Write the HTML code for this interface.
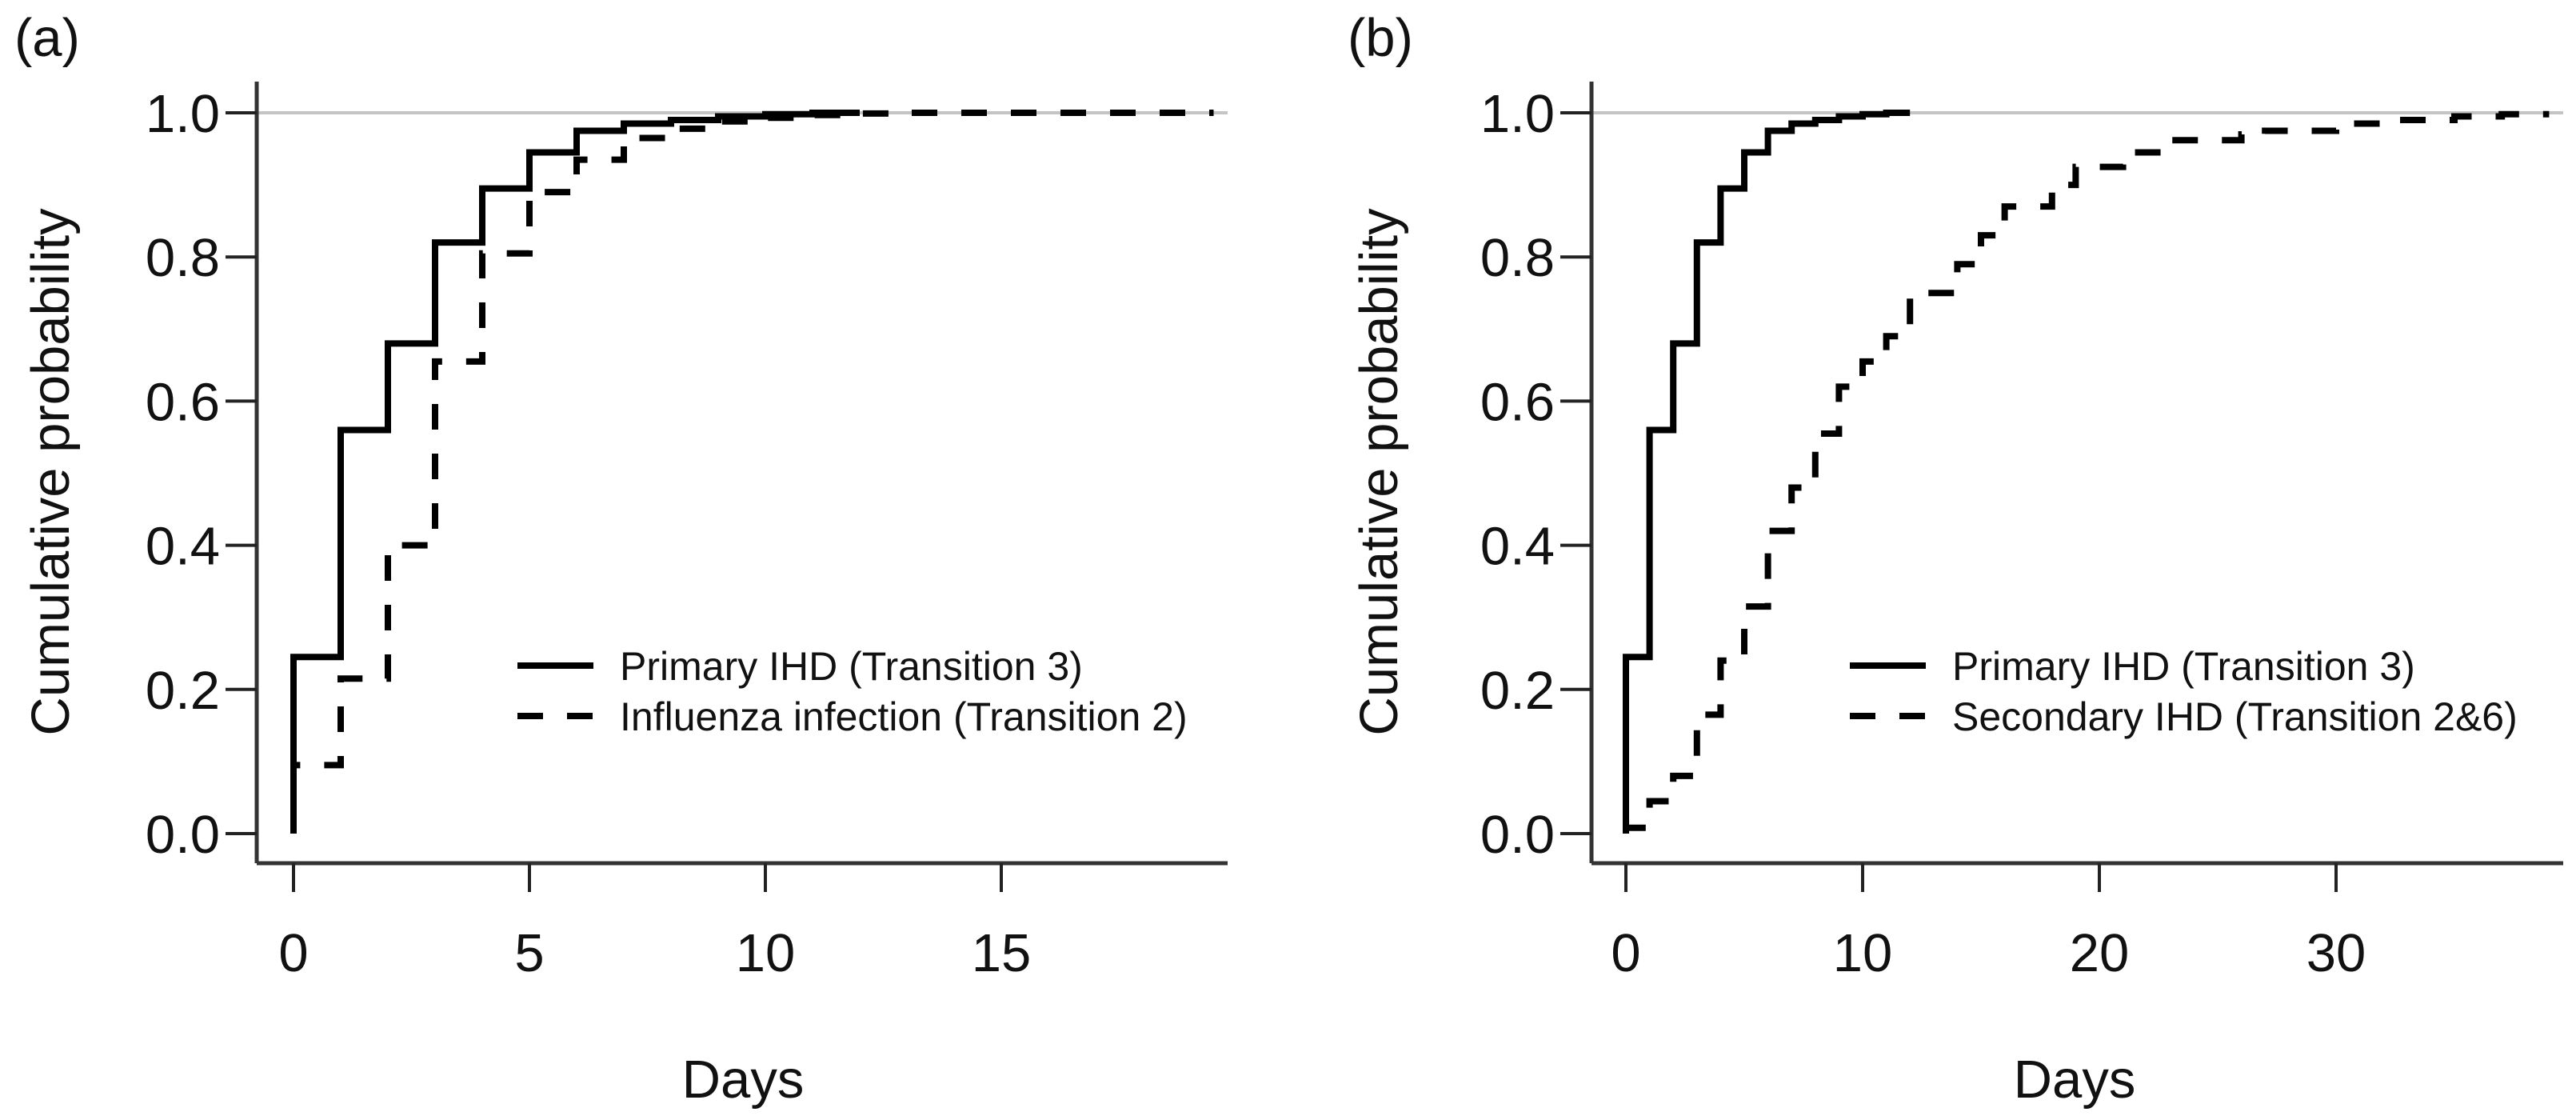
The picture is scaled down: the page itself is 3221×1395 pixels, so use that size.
<!DOCTYPE html>
<html><head><meta charset="utf-8"><style>
html,body{margin:0;padding:0;background:#fff;}
svg{display:block;font-family:"Liberation Sans",Arial,sans-serif;}
</style></head><body>
<svg id="fig" width="3221" height="1395" viewBox="0 0 3221 1395">
<g id="pa"></g>
<g id="pb"></g>
</svg>
<script>
// Shared primary IHD (Transition 3)
const primaryDays = [0,1,2,3,4,5,6,7,8,9,10,11];
const primaryProb = [0.245,0.56,0.68,0.82,0.895,0.945,0.975,0.985,0.99,0.995,0.998,1.0];
const primaryEnd = 12;
// Panel a: influenza infection (Transition 2)
const fluDays = [0,1,2,3,4,5,6,7,8,9,10,11,12,13];
const fluProb = [0.095,0.215,0.40,0.655,0.805,0.89,0.935,0.965,0.978,0.988,0.993,0.997,0.999,1.0];
const fluEnd = 19.5;
// Panel b: secondary IHD (Transition 2&6)
const secDays = [0,1,2,3,4,5,6,7,8,9,10,11,12,14,15,16,18,19,21,23,26,27,30,32,35,37];
const secProb = [0.008,0.045,0.08,0.165,0.24,0.315,0.42,0.48,0.555,0.62,0.655,0.69,0.75,0.79,0.83,0.87,0.90,0.925,0.945,0.962,0.97,0.975,0.985,0.99,0.995,0.998];
const secEnd = 39;
const ticksA = [0,5,10,15];
const ticksB = [0,10,20,30];
const yTicks = [0,0.2,0.4,0.6,0.8,1.0];
const yTickLabels = ["0.0","0.2","0.4","0.6","0.8","1.0"];

const NS="http://www.w3.org/2000/svg";
function mk(parent,tag,attrs){const e=document.createElementNS(NS,tag);for(const k in attrs)e.setAttribute(k,attrs[k]);parent.appendChild(e);return e;}

function panel(g,cfg){
  const x=d=>cfg.x0+d*cfg.ppd;
  const y=v=>1042-v*901;
  // grey reference line
  const ref=mk(g,'line',{x1:cfg.axL,x2:cfg.axR,y1:y(1),y2:y(1),stroke:'#c4c4c4','stroke-width':4});
  
  
  // axes
  const ya=mk(g,'line',{x1:cfg.axL,x2:cfg.axL,y1:102,y2:1079,stroke:'#333','stroke-width':5});
  
  
  const xa=mk(g,'line',{x1:cfg.axL,x2:cfg.axR,y1:1079,y2:1079,stroke:'#333','stroke-width':5});
  
  
  yTicks.forEach((v,i)=>{
    const t=mk(g,'line',{x1:cfg.axL-39,x2:cfg.axL,y1:y(v),y2:y(v),stroke:'#222','stroke-width':4});
    
    
    const l=mk(g,'text',{x:cfg.axL-46,y:y(v)+24,'font-size':67,'text-anchor':'end',fill:'#111'});
    
    
    l.textContent=yTickLabels[i];
  });
  cfg.xt.forEach(d=>{
    const t=mk(g,'line',{x1:x(d),x2:x(d),y1:1079,y2:1115,stroke:'#222','stroke-width':4});
    
    
    const l=mk(g,'text',{x:x(d),y:1214,'font-size':67,'text-anchor':'middle',fill:'#111'});
    
    
    l.textContent=String(d);
  });
  function step(days,prob,end){
    let p='M'+x(days[0])+' '+y(0);
    for(let i=0;i<days.length;i++){
      p+=' V'+y(prob[i]);
      p+=' H'+x(i+1<days.length?days[i+1]:end);
    }
    return p;
  }
  const s1=mk(g,'path',{d:step(cfg.d2,cfg.p2,cfg.e2),fill:'none',stroke:'#000','stroke-width':8,'stroke-dasharray':'32 30'});
  
  
  const s0=mk(g,'path',{d:step(primaryDays,primaryProb,primaryEnd),fill:'none',stroke:'#000','stroke-width':8});
  
  
  // legend
  const l1=mk(g,'line',{x1:cfg.lgX,x2:cfg.lgX+95,y1:832,y2:832,stroke:'#000','stroke-width':8});
  
  
  const l2=mk(g,'line',{x1:cfg.lgX,x2:cfg.lgX+95,y1:895,y2:895,stroke:'#000','stroke-width':8,'stroke-dasharray':'32 30'});
  
  
  const t1=mk(g,'text',{x:cfg.lgX+128,y:850,'font-size':50,fill:'#111'});
  
  
  t1.textContent='Primary IHD (Transition 3)';
  const t2=mk(g,'text',{x:cfg.lgX+128,y:913,'font-size':50,fill:'#111'});
  
  
  t2.textContent=cfg.lab2;
  // titles
  const yt=mk(g,'text',{x:0,y:0,'font-size':67,'text-anchor':'middle',fill:'#111',transform:'translate('+(cfg.ytX+24)+',590) rotate(-90)'});
  
  
  yt.textContent='Cumulative probability';
  const xt=mk(g,'text',{x:cfg.xtX,y:1372,'font-size':67,'text-anchor':'middle',fill:'#111'});
  
  
  xt.textContent='Days';
  const pl=mk(g,'text',{x:cfg.plX,y:70,'font-size':67,fill:'#111'});
  
  
  pl.textContent=cfg.pl;
}
panel(document.getElementById('pa'),{x0:367,ppd:59,axL:321,axR:1535,xt:ticksA,d2:fluDays,p2:fluProb,e2:fluEnd,lgX:647,lab2:'Influenza infection (Transition 2)',ytX:62,xtX:929,plX:18,pl:'(a)'});
panel(document.getElementById('pb'),{x0:2033,ppd:29.6,axL:1990,axR:3205,xt:ticksB,d2:secDays,p2:secProb,e2:secEnd,lgX:2313,lab2:'Secondary IHD (Transition 2&6)',ytX:1723,xtX:2594,plX:1685,pl:'(b)'});
</script>
</body></html>
